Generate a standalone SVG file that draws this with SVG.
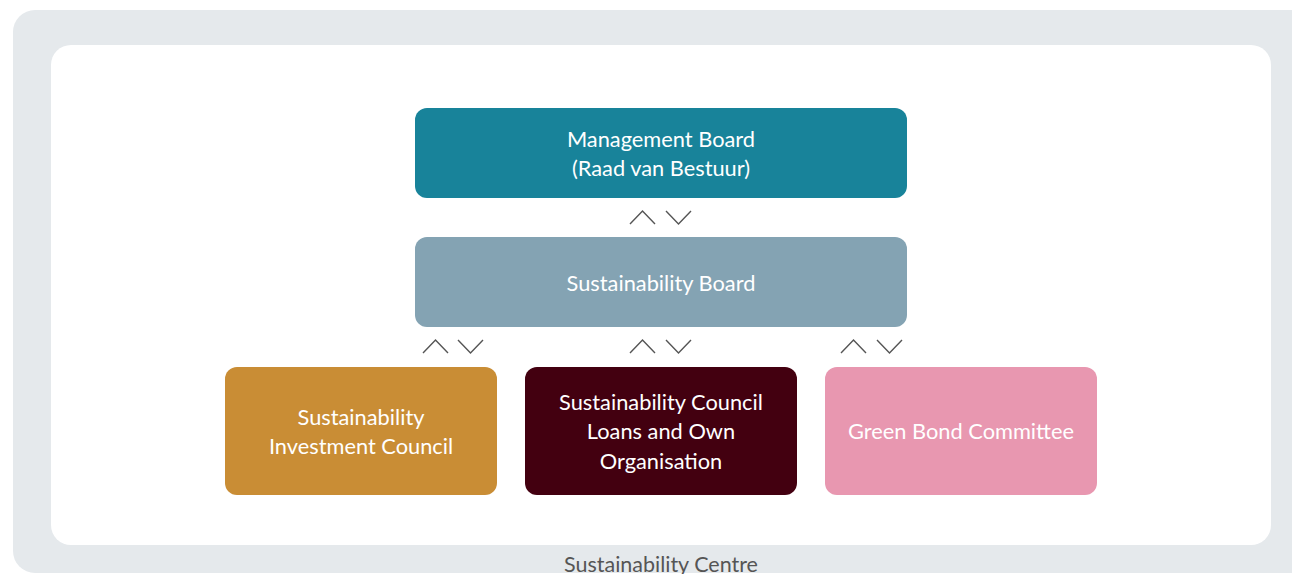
<svg xmlns="http://www.w3.org/2000/svg" width="1292" height="574" viewBox="0 0 1292 574">
<style>
.t{font-family:Lato,"Open Sans","Liberation Sans",sans-serif;font-size:21.8px;fill:#ffffff;text-anchor:middle}
.c{fill:none;stroke:#555555;stroke-width:1.4}
.lbl{font-family:Lato,"Open Sans","Liberation Sans",sans-serif;font-size:21.5px;fill:#555555;text-anchor:middle}
</style>
<rect x="13" y="10" width="1310" height="563" rx="22" fill="#E5E9EC"/>
<rect x="51" y="45" width="1220" height="500" rx="20" fill="#ffffff"/>
<text class="lbl" x="661" y="572">Sustainability Centre</text>
<g id="connectors">
<path class="c" d="M630 224 L642.5 211 L655 224 M666 211 L678.5 224 L691 211"/>
<path class="c" d="M423 353 L435.5 340 L448 353 M458 340 L470.5 353 L483 340"/>
<path class="c" d="M630 353 L642.5 340 L655 353 M666 340 L678.5 353 L691 340"/>
<path class="c" d="M841 353 L853.5 340 L866 353 M877 340 L889.5 353 L902 340"/>
</g>
<g id="management-board">
<rect x="415" y="108" width="492" height="90" rx="12" fill="#18839A"/>
<text class="t" x="661" y="147">Management Board</text>
<text class="t" x="661" y="176">(Raad van Bestuur)</text>
</g>
<g id="sustainability-board">
<rect x="415" y="237" width="492" height="90" rx="12" fill="#84A3B3"/>
<text class="t" x="661" y="291">Sustainability Board</text>
</g>
<g id="investment-council">
<rect x="225" y="367" width="272" height="128" rx="12" fill="#C98D35"/>
<text class="t" x="361" y="425">Sustainability</text>
<text class="t" x="361" y="454">Investment Council</text>
</g>
<g id="council-loans">
<rect x="525" y="367" width="272" height="128" rx="12" fill="#430010"/>
<text class="t" x="661" y="410">Sustainability Council</text>
<text class="t" x="661" y="439">Loans and Own</text>
<text class="t" x="661" y="469">Organisation</text>
</g>
<g id="green-bond">
<rect x="825" y="367" width="272" height="128" rx="12" fill="#E897B0"/>
<text class="t" x="961" y="439">Green Bond Committee</text>
</g>
</svg>
